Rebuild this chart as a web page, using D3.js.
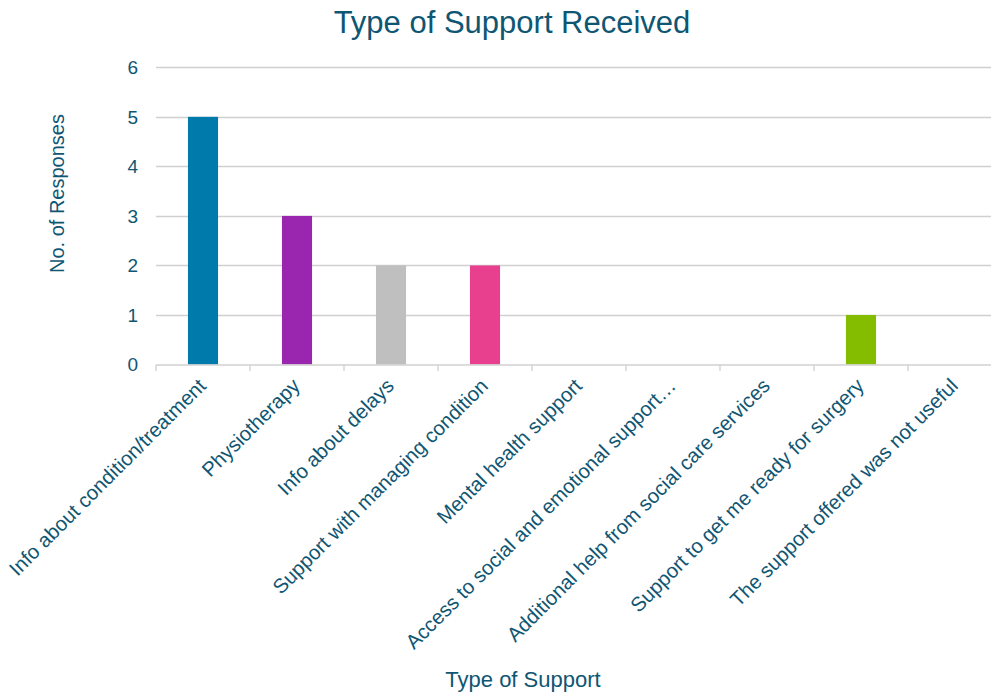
<!DOCTYPE html>
<html><head><meta charset="utf-8">
<script src="https://cdn.jsdelivr.net/npm/d3@7"></script>
<style>body{margin:0;background:#fff}svg{display:block;font-family:"Liberation Sans",Arial,sans-serif}</style>
</head><body>
<svg id="c" width="991" height="693"></svg>
<script>
const categories = ["Info about condition/treatment","Physiotherapy","Info about delays","Support with managing condition","Mental health support","Access to social and emotional support…","Additional help from social care services","Support to get me ready for surgery","The support offered was not useful"];
const values = [5,3,2,2,0,0,0,1,0];
const colors = ["#0079AB","#9A26B0","#BFBFBF","#E8408F","#0079AB","#0079AB","#0079AB","#84BD00","#0079AB"];
const yTicks = [0,1,2,3,4,5,6];
const textColor = "#0F5673";

const svg = d3.select("#c");
const x = d3.scaleBand().domain(categories).range([156,1002]).paddingInner(0.68).paddingOuter(0.34);
const xb = d3.scaleBand().domain(categories).range([156,1002]).padding(0);
const y = d3.scaleLinear().domain([0,6]).range([364.5,67.3]);

svg.append("text").attr("x",512).attr("y",33).attr("text-anchor","middle")
  .attr("fill",textColor).attr("font-size",31).text("Type of Support Received");

// gridlines
svg.append("g").selectAll("line").data(yTicks.filter(d=>d>0)).join("line")
  .attr("x1",156).attr("x2",991).attr("y1",d=>Math.round(y(d))+0.5).attr("y2",d=>Math.round(y(d))+0.5)
  .attr("stroke","#D0D0D0").attr("stroke-width",1.3);

// y labels
svg.append("g").selectAll("text").data(yTicks).join("text")
  .attr("x",138).attr("y",d=>y(d)).attr("dy","0.36em").attr("text-anchor","end")
  .attr("fill",textColor).attr("font-size",19).text(d=>d);

// bars
svg.append("g").selectAll("rect").data(values).join("rect")
  .attr("x",(d,i)=>x(categories[i])).attr("width",x.bandwidth())
  .attr("y",d=>y(d)).attr("height",d=>y(0)-y(d))
  .attr("fill",(d,i)=>colors[i]);

// x axis line and ticks
svg.append("line").attr("x1",156).attr("x2",991).attr("y1",365).attr("y2",365)
  .attr("stroke","#D0D0D0").attr("stroke-width",1.3);
svg.append("g").selectAll("line").data(categories.map(c=>xb(c)).concat([1002])).join("line")
  .attr("x1",d=>d).attr("x2",d=>d).attr("y1",365).attr("y2",371)
  .attr("stroke","#D0D0D0").attr("stroke-width",1.3);

// x labels
svg.append("g").selectAll("text").data(categories).join("text")
  .attr("transform",c=>`translate(${x(c)+x.bandwidth()/2-1},${382}) rotate(-45)`)
  .attr("text-anchor","end").attr("dy","0.36em")
  .attr("fill",textColor).attr("font-size",20.3).text(c=>c);

// axis titles
svg.append("text").attr("transform","translate(64,193.5) rotate(-90)").attr("text-anchor","middle")
  .attr("fill",textColor).attr("font-size",20).text("No. of Responses");
svg.append("text").attr("x",523).attr("y",687).attr("text-anchor","middle")
  .attr("fill",textColor).attr("font-size",22).text("Type of Support");
</script>
</body></html>
